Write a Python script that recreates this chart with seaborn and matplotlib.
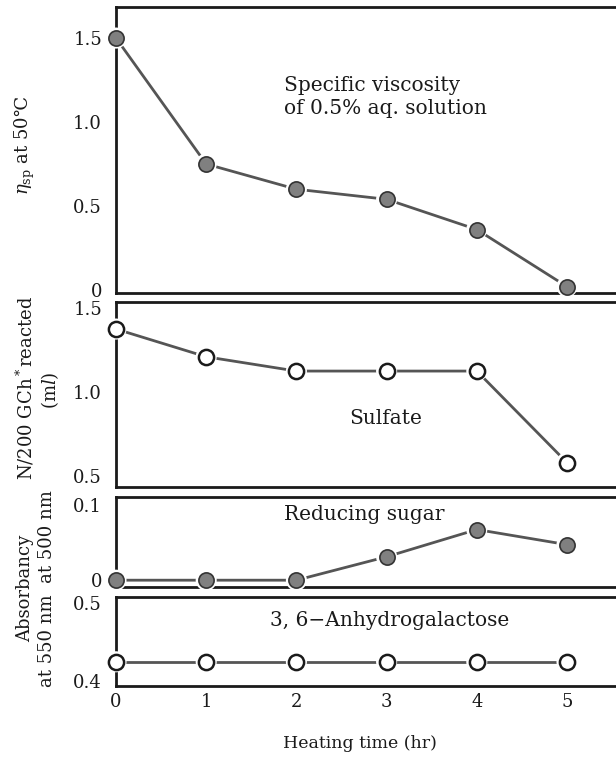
import matplotlib
matplotlib.use("Agg")
import matplotlib.pyplot as plt
import seaborn as sns
import pandas as pd

sns.set_theme(style="white")
plt.rcParams['font.family'] = ['DejaVu Serif', 'DejaVu Sans']
plt.rcParams['mathtext.fontset'] = 'dejavuserif'

# ---- data ----
hours = [0, 1, 2, 3, 4, 5]
viscosity = [1.50, 0.75, 0.60, 0.54, 0.36, 0.02]
sulfate = [1.375, 1.21, 1.125, 1.125, 1.125, 0.58]
reducing_sugar = [0.0, 0.0, 0.0, 0.031, 0.067, 0.047]
anhydrogalactose = [0.425, 0.425, 0.425, 0.425, 0.425, 0.425]

x_ticks = [0, 1, 2, 3, 4, 5]
x_tick_labels = ["0", "1", "2", "3", "4", "5"]

W, H = 616, 760
fig = plt.figure(figsize=(W / 100, H / 100), dpi=100)

def frac_rect(top_px, bottom_px, left_px=116, right_px=616):
    return [left_px / W, 1 - bottom_px / H, (right_px - left_px) / W, (bottom_px - top_px) / H]

panels = [
    dict(rect=frac_rect(7, 293), y=viscosity, ylim=(-0.018, 1.685),
         yticks=[0, 0.5, 1.0, 1.5], ylabels=["0", "0.5", "1.0", "1.5"], filled=True),
    dict(rect=frac_rect(302, 487), y=sulfate, ylim=(0.435, 1.536),
         yticks=[0.5, 1.0, 1.5], ylabels=["0.5", "1.0", "1.5"], filled=False),
    dict(rect=frac_rect(497, 587), y=reducing_sugar, ylim=(-0.009, 0.11),
         yticks=[0, 0.1], ylabels=["0", "0.1"], filled=True),
    dict(rect=frac_rect(597, 686), y=anhydrogalactose, ylim=(0.394, 0.508),
         yticks=[0.4, 0.5], ylabels=["0.4", "0.5"], filled=False),
]

ink = "#1a1a1a"
line_col = "#555555"
axes = []
for i, p in enumerate(panels):
    ax = fig.add_axes(p["rect"])
    axes.append(ax)
    df = pd.DataFrame({"x": hours, "y": p["y"]})
    sns.lineplot(data=df, x="x", y="y", ax=ax, color=line_col, lw=2.0)
    # white halo to give gap between line and markers
    sns.scatterplot(data=df, x="x", y="y", ax=ax, s=230, color="white",
                    edgecolor="none", clip_on=False, zorder=3)
    if p["filled"]:
        sns.scatterplot(data=df, x="x", y="y", ax=ax, s=120, color="#808080",
                        edgecolor="#333333", linewidth=1.2, clip_on=False, zorder=4)
    else:
        sns.scatterplot(data=df, x="x", y="y", ax=ax, s=120, color="white",
                        edgecolor=ink, linewidth=1.8, clip_on=False, zorder=4)
    ax.set_xlim(0, 500 / 90.2)
    ax.set_ylim(*p["ylim"])
    ax.set_yticks(p["yticks"])
    ax.set_yticklabels(p["ylabels"], fontsize=13, color=ink)
    ax.set_xticks(x_ticks)
    if i == 3:
        ax.set_xticklabels(x_tick_labels, fontsize=13, color=ink)
    else:
        ax.set_xticklabels([])
    ax.tick_params(axis="x", direction="in", length=8, width=1.8, color=ink, pad=5)
    ax.tick_params(axis="y", direction="in", length=6, width=1.8, color=ink, pad=10)
    ax.set_xlabel("")
    ax.set_ylabel("")
    for side in ["left", "top", "bottom"]:
        ax.spines[side].set_visible(True)
        ax.spines[side].set_color(ink)
        ax.spines[side].set_linewidth(2.0)
    ax.spines["right"].set_visible(False)
    ax.set_facecolor("white")

fs = 13
afs = 14.5
axes[0].text(1.86, 1.15, "Specific viscosity\nof 0.5% aq. solution", fontsize=afs,
             ha="left", va="center", color=ink, linespacing=1.3)
axes[1].text(2.99, 0.845, "Sulfate", fontsize=afs, ha="center", va="center", color=ink)
axes[2].text(1.86, 0.087, "Reducing sugar", fontsize=afs, ha="left", va="center", color=ink)
axes[3].text(3.03, 0.478, "3, 6\u2212Anhydrogalactose", fontsize=afs, ha="center",
             va="center", color=ink)

# y-axis labels
fig.text(25 / W, 1 - 145 / H, r"$\eta_{\rm sp}$ at 50℃", rotation=90, fontsize=fs,
         ha="center", va="center", color=ink)
fig.text(25 / W, 1 - 388 / H, "N/200 GCh$^*$reacted", rotation=90, fontsize=fs,
         ha="center", va="center", color=ink)
fig.text(50 / W, 1 - 390 / H, "(m$l$)", rotation=90, fontsize=fs,
         ha="center", va="center", color=ink)
fig.text(25 / W, 1 - 588 / H, "Absorbancy", rotation=90, fontsize=fs,
         ha="center", va="center", color=ink)
fig.text(47 / W, 1 - 589 / H, "at 550 nm  at 500 nm", rotation=90, fontsize=fs,
         ha="center", va="center", color=ink)

fig.text(360 / W, 1 - 743 / H, "Heating time (hr)", fontsize=12.5, ha="center",
         va="center", color=ink)

fig.savefig("out.png", dpi=100, facecolor="white")
